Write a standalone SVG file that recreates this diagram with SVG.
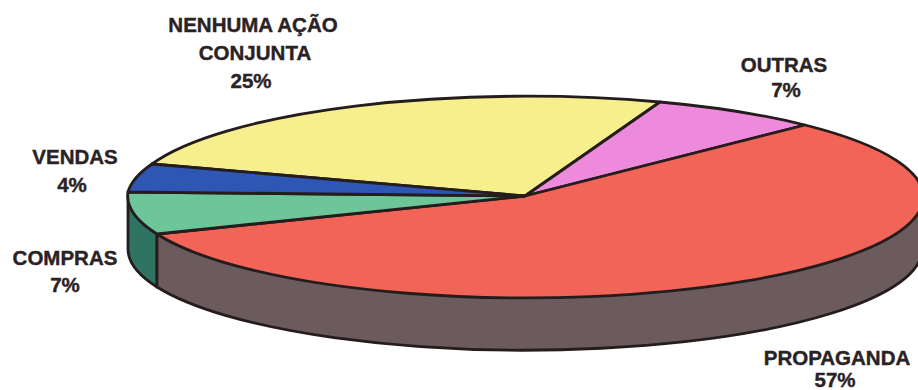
<svg xmlns="http://www.w3.org/2000/svg" width="918" height="390" viewBox="0 0 918 390">
<style>
.o{stroke:#251c1c;stroke-width:2.8;stroke-linejoin:round}
.t{font-family:"Liberation Sans",Arial,sans-serif;font-weight:bold;font-size:20.5px;fill:#2a2224;stroke:#2a2224;stroke-width:0.4;text-anchor:middle}
</style>
<rect width="918" height="390" fill="#ffffff"/>
<g id="sides">
<path class="o" fill="#2f7463" d="M128,196 A397,101 0 0,0 157,234 L157,287 A397,101 0 0,1 128,249 Z"/>
<path class="o" fill="#6b5b5e" d="M157,234 A397,101 0 0,0 922,196 L922,249 A397,101 0 0,1 157,287 Z"/>
</g>
<g id="slice-nenhuma">
<path class="o" fill="#f7ee8e" d="M525,196 L152,164 A397,101 0 0,1 660,102 Z"/>
</g>
<g id="slice-outras">
<path class="o" fill="#ee8adb" d="M525,196 L660,102 A397,101 0 0,1 805,125 Z"/>
</g>
<g id="slice-propaganda">
<path class="o" fill="#f26458" d="M525,196 L805,125 A397,101 0 1,1 157,234 Z"/>
</g>
<g id="slice-compras">
<path class="o" fill="#6cc69a" d="M525,196 L157,234 A397,101 0 0,1 128,192 Z"/>
</g>
<g id="slice-vendas">
<path class="o" fill="#2d56b5" d="M525,196 L128,192 A397,101 0 0,1 152,164 Z"/>
</g>
<g id="connectors"></g>
<g id="label-nenhuma">
<text class="t" x="253" y="32">NENHUMA AÇÃO</text>
<text class="t" x="255" y="60">CONJUNTA</text>
<text class="t" x="251" y="88">25%</text>
</g>
<g id="label-outras">
<text class="t" x="784" y="72">OUTRAS</text>
<text class="t" x="786" y="97">7%</text>
</g>
<g id="label-vendas">
<text class="t" x="75" y="164">VENDAS</text>
<text class="t" x="72" y="192">4%</text>
</g>
<g id="label-compras">
<text class="t" x="65" y="265">COMPRAS</text>
<text class="t" x="65" y="292">7%</text>
</g>
<g id="label-propaganda">
<text class="t" x="837" y="365">PROPAGANDA</text>
<text class="t" x="835" y="387">57%</text>
</g>
</svg>
